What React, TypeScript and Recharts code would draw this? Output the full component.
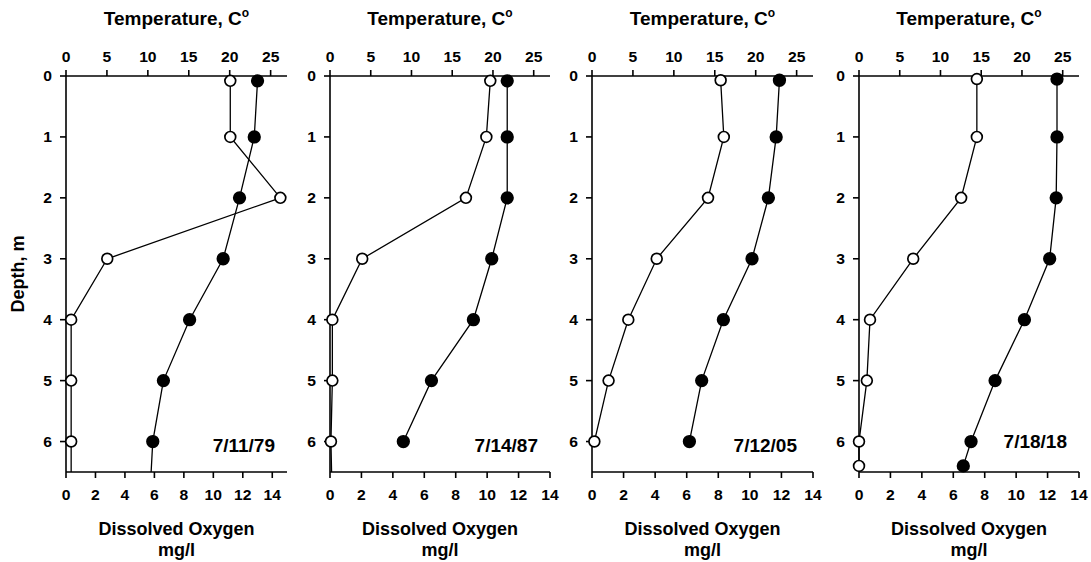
import { ScatterChart, Scatter, XAxis, YAxis } from "recharts"

const FONT = '"Liberation Sans", Arial, Helvetica, sans-serif'

// survey dates, one panel each
const dates = ["7/11/79", "7/14/87", "7/12/05", "7/18/18"]

// depth (m), temperature (C) and dissolved oxygen (mg/l) per survey
// a point at 6.5 m is where the trace leaves the bottom of the frame
const depth79 = [0.08, 1, 2, 3, 4, 5, 6, 6.5]
const temp79 = [23.4, 23.0, 21.2, 19.2, 15.1, 11.9, 10.6, 10.4]
const oxygen79 = [11.15, 11.15, 14.55, 2.8, 0.35, 0.35, 0.35, 0.35]

const depth87 = [0.08, 1, 2, 3, 4, 5, 6, 6.5]
const temp87 = [21.75, 21.75, 21.75, 19.85, 17.6, 12.45, 9.0]
const oxygen87 = [10.2, 9.95, 8.65, 2.05, 0.15, 0.15, 0.06, 0.1]

const depth05 = [0.07, 1, 2, 3, 4, 5, 6]
const temp05 = [22.9, 22.5, 21.55, 19.55, 16.05, 13.4, 11.9]
const oxygen05 = [8.15, 8.35, 7.35, 4.1, 2.3, 1.05, 0.15]

const depth18 = [0.05, 1, 2, 3, 4, 5, 6, 6.4]
const temp18 = [24.3, 24.3, 24.2, 23.4, 20.3, 16.7, 13.75, 12.8]
const oxygen18 = [7.5, 7.5, 6.5, 3.45, 0.7, 0.5, 0.0, 0.0]

const tempTicks = [0, 5, 10, 15, 20, 25]
const oxygenTicks = [0, 2, 4, 6, 8, 10, 12, 14]
const depthTicks = [0, 1, 2, 3, 4, 5, 6]
const oxygenMax = [15, 14, 14, 14]
const TEMP_MAX = 27
const DEPTH_MAX = 6.5

// layout of the four frames (page pixels)
const plotLeft = [66, 330, 592, 859]
const plotWidth = [221, 220, 221, 220]
const PLOT_TOP = 76
const PLOT_BOTTOM = 472
const H = 562
const Y_AXIS_W = 66
const RIGHT_PAD = 14
const TICK_SX = 1.12

const toRows = (depths: number[], values: number[]) =>
  values.map((v, i) => ({ depth: depths[i], value: v }))

const panels = [
  { temp: toRows(depth79, temp79), oxygen: toRows(depth79, oxygen79) },
  { temp: toRows(depth87, temp87), oxygen: toRows(depth87, oxygen87) },
  { temp: toRows(depth05, temp05), oxygen: toRows(depth05, oxygen05) },
  { temp: toRows(depth18, temp18), oxygen: toRows(depth18, oxygen18) },
]

const dateInset = [12, 12, 16, 12]
const dateBaseline = [452, 452, 452, 448]

function TopTick({ x, y, payload }: any) {
  return (
    <text transform={`translate(${x},${y}) scale(${TICK_SX},1)`} textAnchor="middle"
      fontFamily={FONT} fontSize={14} fontWeight="bold" fill="#000">
      {payload.value}
    </text>
  )
}

function BottomTick({ x, y, payload }: any) {
  return (
    <text transform={`translate(${x},${y}) scale(${TICK_SX},1)`} textAnchor="middle" dy="0.72em"
      fontFamily={FONT} fontSize={14} fontWeight="bold" fill="#000">
      {payload.value}
    </text>
  )
}

function LeftTick({ x, y, payload }: any) {
  return (
    <text transform={`translate(${x},${y}) scale(${TICK_SX},1)`} textAnchor="end" dy="0.36em"
      fontFamily={FONT} fontSize={14} fontWeight="bold" fill="#000">
      {payload.value}
    </text>
  )
}

const dot = (filled: boolean) => (p: any) => {
  if (p.payload.depth >= DEPTH_MAX) return <g />
  return (
    <circle cx={p.cx} cy={p.cy} r={filled ? 5.8 : 5.4} fill={filled ? "#000" : "#fff"}
      stroke="#000" strokeWidth={1.7} />
  )
}

function Panel({ idx }: { idx: number }) {
  const pw = plotWidth[idx]
  const w = Y_AXIS_W + pw + RIGHT_PAD
  const cx = Y_AXIS_W + pw / 2
  const p = panels[idx]
  const txt = { fontFamily: FONT, fontWeight: "bold" as const, fill: "#000" }
  return (
    <div style={{ position: "absolute", left: plotLeft[idx] - Y_AXIS_W, top: 0 }}>
      <ScatterChart width={w} height={H} margin={{ top: 0, right: RIGHT_PAD, bottom: 0, left: 0 }}>
        <XAxis xAxisId="t" orientation="top" type="number" dataKey="value"
          domain={[0, TEMP_MAX]} ticks={tempTicks} height={PLOT_TOP}
          tick={<TopTick />} tickSize={6} tickMargin={8}
          axisLine={{ stroke: "#000", strokeWidth: 1.6 }} tickLine={{ stroke: "#000", strokeWidth: 1.6 }}
          label={{
            content: () => (
              <text x={cx} y={25} textAnchor="middle" fontSize={19} {...txt}>
                Temperature, C<tspan dy={-8} fontSize={12}>o</tspan>
              </text>
            ),
          }} />
        <XAxis xAxisId="o" orientation="bottom" type="number" dataKey="value"
          domain={[0, oxygenMax[idx]]} ticks={oxygenTicks} height={H - PLOT_BOTTOM}
          tick={<BottomTick />} tickSize={6} tickMargin={12}
          axisLine={{ stroke: "#000", strokeWidth: 1.6 }} tickLine={{ stroke: "#000", strokeWidth: 1.6 }}
          label={{
            content: () => (
              <g>
                <text x={cx} y={535} textAnchor="middle" fontSize={18} {...txt}>Dissolved Oxygen</text>
                <text x={cx} y={556} textAnchor="middle" fontSize={18} {...txt}>mg/l</text>
                <text x={Y_AXIS_W + pw - dateInset[idx]} y={dateBaseline[idx]} textAnchor="end"
                  fontSize={19} {...txt}>
                  {dates[idx]}
                </text>
              </g>
            ),
          }} />
        <YAxis yAxisId="d" type="number" dataKey="depth" reversed domain={[0, DEPTH_MAX]}
          ticks={depthTicks} width={Y_AXIS_W} tick={<LeftTick />} tickSize={6} tickMargin={8}
          axisLine={{ stroke: "#000", strokeWidth: 1.6 }} tickLine={{ stroke: "#000", strokeWidth: 1.6 }}
          label={
            idx === 0
              ? {
                  content: () => (
                    <text transform={`translate(24,${(PLOT_TOP + PLOT_BOTTOM) / 2}) rotate(-90)`}
                      textAnchor="middle" fontSize={18} {...txt}>
                      Depth, m
                    </text>
                  ),
                }
              : undefined
          } />
        <YAxis yAxisId="r" orientation="right" type="number" domain={[0, DEPTH_MAX]} width={0}
          tick={false} tickLine={false} axisLine={{ stroke: "#000", strokeWidth: 1.6 }} />
        <Scatter data={p.temp} xAxisId="t" yAxisId="d" dataKey="value" isAnimationActive={false}
          line={{ stroke: "#000", strokeWidth: 1.3 }} shape={dot(true)} />
        <Scatter data={p.oxygen} xAxisId="o" yAxisId="d" dataKey="value" isAnimationActive={false}
          line={{ stroke: "#000", strokeWidth: 1.3 }} shape={dot(false)} />
      </ScatterChart>
    </div>
  )
}

export default function App() {
  return (
    <div style={{ position: "absolute", left: 0, top: 0, width: 1091, height: H, background: "#fff" }}>
      {[0, 1, 2, 3].map((i) => (
        <Panel key={i} idx={i} />
      ))}
    </div>
  )
}
